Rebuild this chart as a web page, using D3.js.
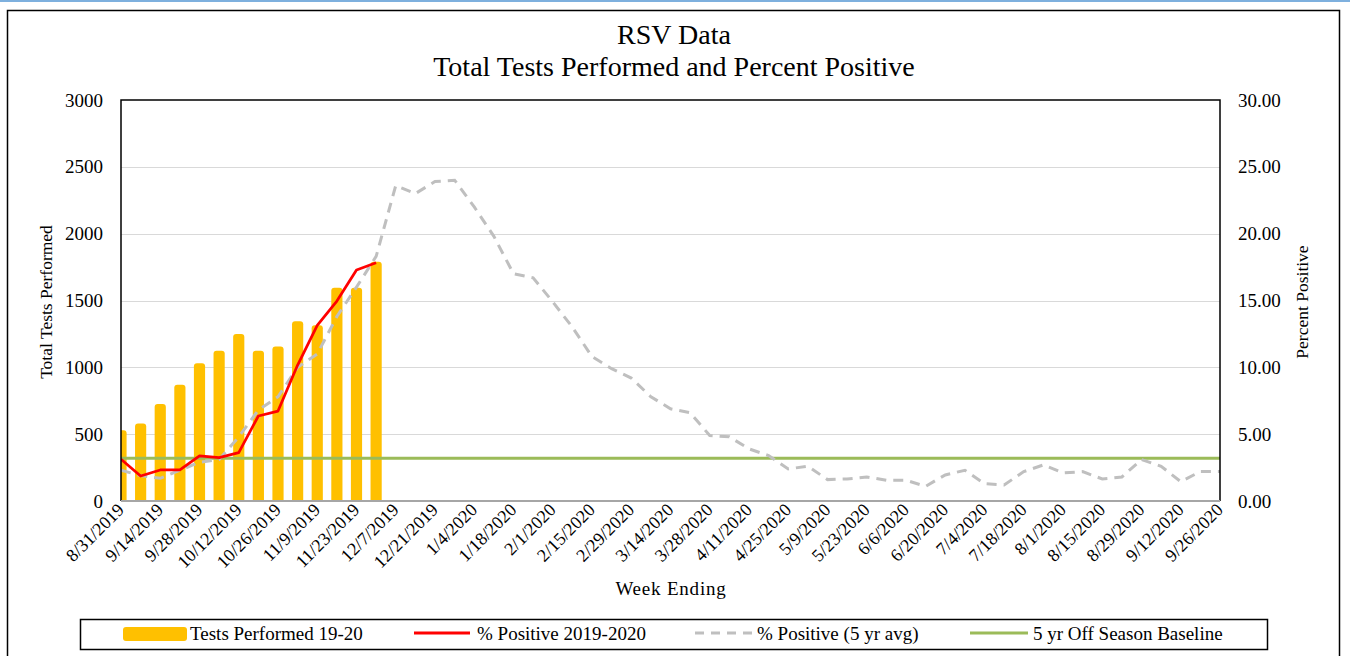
<!DOCTYPE html>
<html>
<head>
<meta charset="utf-8">
<style>
    body{ margin: 0; background: #fff; }
</style>
</head>
<body>
<div id='chart'></div>
<script src='https://cdn.jsdelivr.net/npm/d3@7/dist/d3.min.js'></script>
<script>
    // week ending dates (category axis)
    var weeks = ['8/31/2019', '9/7/2019', '9/14/2019', '9/21/2019', '9/28/2019', '10/5/2019', '10/12/2019',
        '10/19/2019', '10/26/2019', '11/2/2019', '11/9/2019', '11/16/2019', '11/23/2019', '11/30/2019',
        '12/7/2019', '12/14/2019', '12/21/2019', '12/28/2019', '1/4/2020', '1/11/2020', '1/18/2020',
        '1/25/2020', '2/1/2020', '2/8/2020', '2/15/2020', '2/22/2020', '2/29/2020', '3/7/2020', '3/14/2020',
        '3/21/2020', '3/28/2020', '4/4/2020', '4/11/2020', '4/18/2020', '4/25/2020', '5/2/2020', '5/9/2020',
        '5/16/2020', '5/23/2020', '5/30/2020', '6/6/2020', '6/13/2020', '6/20/2020', '6/27/2020', '7/4/2020',
        '7/11/2020', '7/18/2020', '7/25/2020', '8/1/2020', '8/8/2020', '8/15/2020', '8/22/2020', '8/29/2020',
        '9/5/2020', '9/12/2020', '9/19/2020', '9/26/2020'];

    // tests performed 19-20 (left axis)
    var tests = [530, 580, 725, 870, 1030, 1125, 1250, 1125, 1155, 1345, 1315, 1595, 1595, 1790];

    // % positive 2019-2020 (right axis)
    var pct_season = [3.12, 1.87, 2.32, 2.32, 3.37, 3.24, 3.62, 6.36, 6.73, 10.17, 13.14, 14.96, 17.28, 17.83];

    // % positive 5 yr average (right axis)
    var pct_avg = [2.3, 1.9, 1.7, 2.3, 2.9, 3.1, 4.8, 6.8, 7.8, 10.0, 11.0, 13.8, 16.0, 18.3, 23.6, 23.0,
        23.9, 24.0, 22.0, 19.8, 17.0, 16.7, 14.9, 13.0, 10.8, 9.9, 9.2, 7.8, 6.9, 6.6, 4.9, 4.8, 3.9, 3.4,
        2.4, 2.6, 1.6, 1.65, 1.8, 1.55, 1.55, 1.1, 1.95, 2.3, 1.3, 1.2, 2.2, 2.7, 2.1, 2.2, 1.65, 1.8, 3.1,
        2.6, 1.45, 2.2, 2.2];

    // 5 yr off season baseline
    var baseline = 3.2;

    var left_ticks = [0, 500, 1000, 1500, 2000, 2500, 3000];
    var right_ticks = [0, 5, 10, 15, 20, 25, 30];

    var width = 1350,
        height = 656;

    var plot = {left: 121, right: 1220, top: 100, bottom: 501};

    var fnt = 'Liberation Serif';

    var x_scale = d3.scalePoint()
        .domain(weeks)
        .range([plot.left, plot.right]);

    var step = x_scale.step(),
        bar_w = step * 0.57;

    var y_left = d3.scaleLinear()
        .domain([0, 3000])
        .range([plot.bottom, plot.top]);

    var y_right = d3.scaleLinear()
        .domain([0, 30])
        .range([plot.bottom, plot.top]);

    var svg = d3.select('#chart')
        .append('svg')
        .attr('width', width)
        .attr('height', height)
        .attr('font-family', fnt);

    // thin blue line at the very top
    svg.append('line')
        .attr('x1', 0).attr('x2', width)
        .attr('y1', 1).attr('y2', 1)
        .attr('stroke', '#7eb0de')
        .attr('stroke-width', 2);

    // outer chart border
    svg.append('rect')
        .attr('x', 7.5).attr('y', 10.5)
        .attr('width', 1332).attr('height', 660)
        .attr('fill', 'none')
        .attr('stroke', '#000')
        .attr('stroke-width', 1.5);

    // title
    svg.append('text')
        .attr('x', 674).attr('y', 44)
        .attr('text-anchor', 'middle')
        .attr('font-family', fnt)
        .attr('font-size', 28)
        .text('RSV Data');

    svg.append('text')
        .attr('x', 674).attr('y', 76)
        .attr('text-anchor', 'middle')
        .attr('font-family', fnt)
        .attr('font-size', 28)
        .text('Total Tests Performed and Percent Positive');

    // gridlines
    svg.append('g')
        .selectAll('line.grid')
        .data(left_ticks.filter(function(d){ return d > 0 && d < 3000; }))
        .enter().append('line')
        .attr('class', 'grid')
        .attr('x1', plot.left).attr('x2', plot.right)
        .attr('y1', function(d){ return Math.round(y_left(d)) + 0.5; })
        .attr('y2', function(d){ return Math.round(y_left(d)) + 0.5; })
        .attr('stroke', '#d9d9d9')
        .attr('stroke-width', 1.2);

    svg.append('clipPath')
        .attr('id', 'plot_clip')
        .append('rect')
        .attr('x', plot.left).attr('y', plot.top - 5)
        .attr('width', plot.right - plot.left)
        .attr('height', plot.bottom - plot.top + 5);

    var inner = svg.append('g').attr('clip-path', 'url(#plot_clip)');

    // bars
    inner.selectAll('rect.bar')
        .data(tests)
        .enter().append('rect')
        .attr('class', 'bar')
        .attr('x', function(d, i){ return x_scale(weeks[i]) - bar_w / 2; })
        .attr('y', function(d){ return y_left(d); })
        .attr('width', bar_w)
        .attr('height', function(d){ return plot.bottom - y_left(d) + 4; })
        .attr('rx', 3)
        .attr('fill', '#ffc000');

    // baseline
    inner.append('line')
        .attr('x1', plot.left).attr('x2', plot.right)
        .attr('y1', y_right(baseline)).attr('y2', y_right(baseline))
        .attr('stroke', '#9bbb59')
        .attr('stroke-width', 3);

    var line_gen = d3.line()
        .x(function(d, i){ return x_scale(weeks[i]); })
        .y(function(d){ return y_right(d); });

    inner.append('path')
        .datum(pct_avg)
        .attr('d', line_gen)
        .attr('fill', 'none')
        .attr('stroke', '#bfbfbf')
        .attr('stroke-width', 3)
        .attr('stroke-dasharray', '10,7');

    inner.append('path')
        .datum(pct_season)
        .attr('d', line_gen)
        .attr('fill', 'none')
        .attr('stroke', '#ff0000')
        .attr('stroke-width', 2.75)
        .attr('stroke-linejoin', 'round');

    // plot frame: left, top, right in black; category axis gray
    svg.append('path')
        .attr('d', 'M' + plot.left + ',' + plot.bottom + 'V' + plot.top + 'H' + plot.right + 'V' + plot.bottom)
        .attr('fill', 'none')
        .attr('stroke', '#000')
        .attr('stroke-width', 1.5);

    svg.append('line')
        .attr('x1', plot.left).attr('x2', plot.right)
        .attr('y1', plot.bottom).attr('y2', plot.bottom)
        .attr('stroke', '#a6a6a6')
        .attr('stroke-width', 2);

    // left axis labels
    svg.append('g')
        .attr('transform', 'translate(' + plot.left + ',0)')
        .call(d3.axisLeft(y_left).tickValues(left_ticks).tickSize(0).tickPadding(18)
            .tickFormat(d3.format('d')))
        .call(function(g){ g.select('.domain').remove(); })
        .attr('font-family', fnt)
        .attr('font-size', 19);

    // right axis labels
    svg.append('g')
        .attr('transform', 'translate(' + plot.right + ',0)')
        .call(d3.axisRight(y_right).tickValues(right_ticks).tickSize(0).tickPadding(18)
            .tickFormat(d3.format('.2f')))
        .call(function(g){ g.select('.domain').remove(); })
        .attr('font-family', fnt)
        .attr('font-size', 19);

    // x labels, every second week
    svg.append('g')
        .selectAll('text.xlab')
        .data(weeks.filter(function(d, i){ return i % 2 == 0; }))
        .enter().append('text')
        .attr('class', 'xlab')
        .attr('text-anchor', 'end')
        .attr('font-family', fnt)
        .attr('font-size', 18)
        .attr('transform', function(d){ return 'translate(' + (x_scale(d) + 4) + ',' + (plot.bottom + 10) + ') rotate(-45)'; })
        .text(function(d){ return d; });

    // axis titles
    svg.append('text')
        .attr('transform', 'translate(52,302) rotate(-90)')
        .attr('text-anchor', 'middle')
        .attr('font-family', fnt)
        .attr('font-size', 17.5)
        .text('Total Tests Performed');

    svg.append('text')
        .attr('transform', 'translate(1308,302) rotate(-90)')
        .attr('text-anchor', 'middle')
        .attr('font-family', fnt)
        .attr('font-size', 17.5)
        .text('Percent Positive');

    svg.append('text')
        .attr('x', 671).attr('y', 595)
        .attr('text-anchor', 'middle')
        .attr('font-family', fnt)
        .attr('font-size', 19)
        .attr('letter-spacing', 0.8)
        .text('Week Ending');

    // legend
    var legend = svg.append('g');

    legend.append('rect')
        .attr('x', 80.5).attr('y', 619.5)
        .attr('width', 1187).attr('height', 30)
        .attr('fill', '#fff')
        .attr('stroke', '#000')
        .attr('stroke-width', 1.5);

    legend.append('rect')
        .attr('x', 123).attr('y', 627)
        .attr('width', 64).attr('height', 14)
        .attr('rx', 3)
        .attr('fill', '#ffc000');

    legend.append('line')
        .attr('x1', 414).attr('x2', 470).attr('y1', 633).attr('y2', 633)
        .attr('stroke', '#ff0000').attr('stroke-width', 3);

    legend.append('line')
        .attr('x1', 695).attr('x2', 752).attr('y1', 633).attr('y2', 633)
        .attr('stroke', '#bfbfbf').attr('stroke-width', 3)
        .attr('stroke-dasharray', '9,7');

    legend.append('line')
        .attr('x1', 970).attr('x2', 1028).attr('y1', 633).attr('y2', 633)
        .attr('stroke', '#9bbb59').attr('stroke-width', 3);

    legend.selectAll('text.leg')
        .data([[190, 'Tests Performed 19-20'], [477, '% Positive 2019-2020'],
               [757, '% Positive (5 yr avg)'], [1033, '5 yr Off Season Baseline']])
        .enter().append('text')
        .attr('class', 'leg')
        .attr('x', function(d){ return d[0]; })
        .attr('y', 640)
        .attr('font-family', fnt)
        .attr('font-size', 19)
        .text(function(d){ return d[1]; });
</script>
</body>
</html>
